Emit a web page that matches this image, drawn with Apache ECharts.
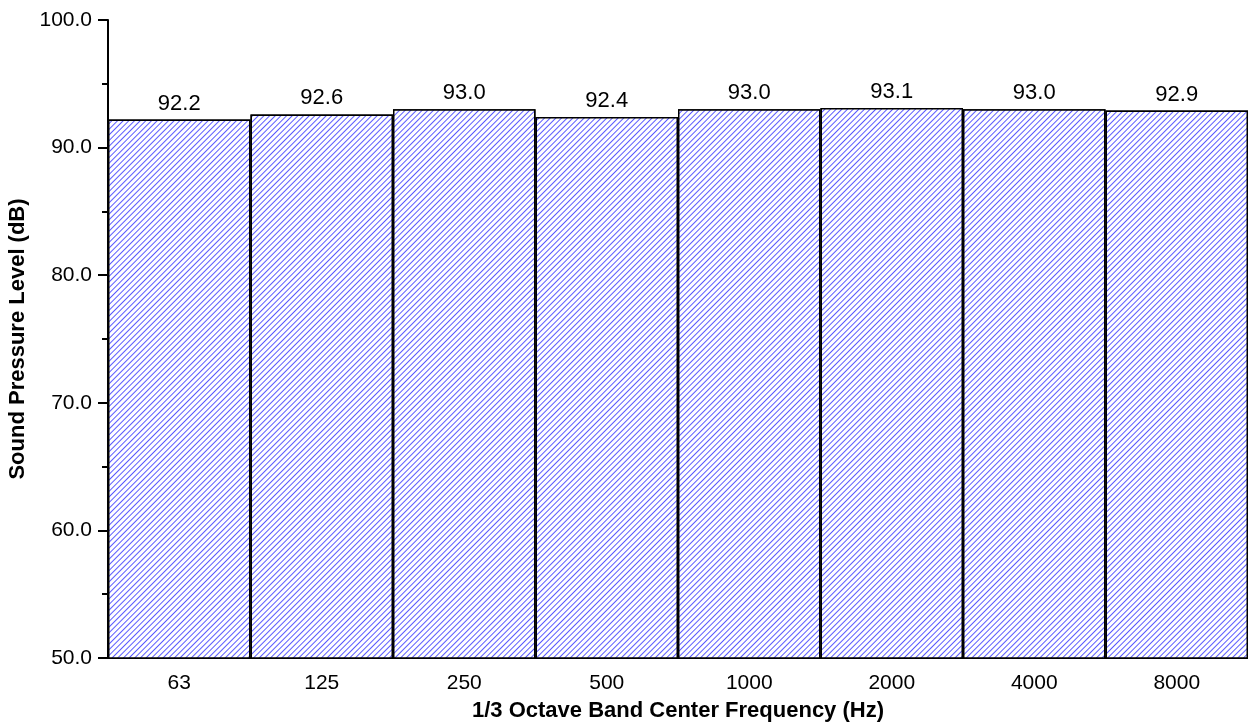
<!DOCTYPE html>
<html>
<head>
<meta charset="utf-8">
<script src="https://cdn.jsdelivr.net/npm/echarts@6/dist/echarts.min.js"></script>
<style>
  html, body { margin: 0; padding: 0; background: #fff; }
  #chart { width: 1248px; height: 728px; }
</style>
</head>
<body>
<div id="chart"></div>
<script>
// 1/3 octave band centre frequencies and measured levels
const bands = ['63', '125', '250', '500', '1000', '2000', '4000', '8000'];
const levels = [92.2, 92.6, 93.0, 92.4, 93.0, 93.1, 93.0, 92.9];

const font = '"Liberation Sans", Arial, sans-serif';
const chart = echarts.init(document.getElementById('chart'), null, { renderer: 'canvas' });
chart.setOption({
  animation: false,
  backgroundColor: '#fff',
  grid: { left: 108, right: 0, top: 20, bottom: 70, outerBoundsMode: 'none' },
  xAxis: {
    type: 'category',
    data: bands,
    name: '1/3 Octave Band Center Frequency (Hz)',
    nameLocation: 'middle',
    nameGap: 42,
    nameTextStyle: { fontFamily: font, fontSize: 22, fontWeight: 'bold', color: '#000' },
    axisLine: { lineStyle: { color: '#000', width: 2 } },
    axisTick: { alignWithLabel: true, length: 10, lineStyle: { color: '#000', width: 2 } },
    axisLabel: { fontFamily: font, fontSize: 21, color: '#000', margin: 15 },
    splitLine: { show: false }
  },
  yAxis: {
    type: 'value',
    min: 50, max: 100, interval: 10,
    name: 'Sound Pressure Level (dB)',
    nameLocation: 'middle',
    nameGap: 66,
    nameTextStyle: { fontFamily: font, fontSize: 22, fontWeight: 'bold', color: '#000' },
    axisLine: { show: true, lineStyle: { color: '#000', width: 2 } },
    axisTick: { show: true, length: 10, lineStyle: { color: '#000', width: 2 } },
    minorTick: { show: true, splitNumber: 2, length: 6, lineStyle: { color: '#000', width: 2 } },
    axisLabel: { fontFamily: font, fontSize: 21, color: '#000', margin: 16,
                 formatter: v => v.toFixed(1) },
    splitLine: { show: false }
  },
  series: [{
    type: 'bar',
    data: levels,
    barCategoryGap: '0%',
    itemStyle: {
      color: '#ffffff',
      borderColor: '#000',
      borderWidth: 1.5,
      // fine diagonal hatch rising to the right
      decal: {
        symbol: 'rect',
        symbolSize: 1,
        color: '#5a5aff',
        backgroundColor: '#ffffff',
        dashArrayX: [1, 0],
        dashArrayY: [1, 3],
        rotation: -Math.PI / 4
      }
    },
    label: {
      show: true, position: 'top', distance: 5,
      fontFamily: font, fontSize: 22, color: '#000',
      formatter: p => p.value.toFixed(1)
    }
  }]
});
</script>
</body>
</html>
